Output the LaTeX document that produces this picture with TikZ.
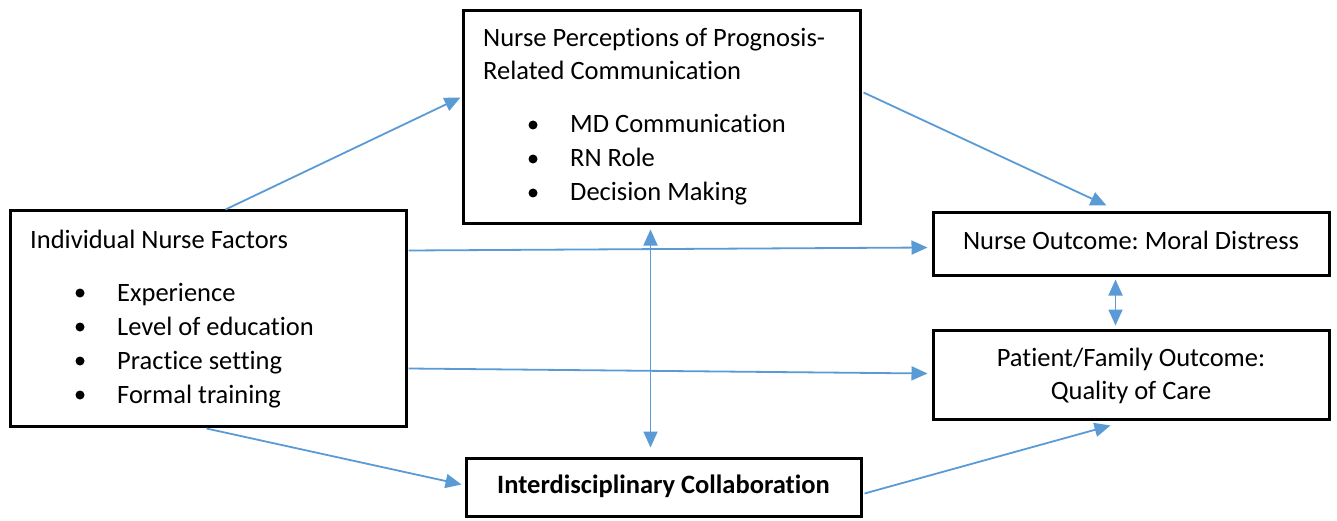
\documentclass[tikz,border=0pt]{standalone}
\usepackage{fontspec}
\setmainfont{Carlito}[Ligatures={NoCommon}]
\usetikzlibrary{arrows.meta,calc}
\definecolor{arrowblue}{HTML}{5B9BD5}
\frenchspacing
\tikzset{
  box/.style={draw=black, line width=3pt, rectangle, inner sep=0pt},
  txt/.style={anchor=base west, inner sep=0pt, font=\fontsize{26.5}{33}\selectfont},
  ctxt/.style={anchor=base, inner sep=0pt, font=\fontsize{26.5}{33}\selectfont},
  bul/.style={anchor=center, circle, fill=black, minimum size=9pt, inner sep=0pt},
  arr/.style={draw=arrowblue, line width=1.8pt, -{Triangle[length=16pt,width=14pt]}},
  darr/.style={draw=arrowblue, line width=1.8pt, {Triangle[length=16pt,width=14pt]}-{Triangle[length=16pt,width=14pt]}}
}
\begin{document}
\begin{tikzpicture}[x=1pt,y=-1pt]
\useasboundingbox (0,0) rectangle (1337,521);
\fill[white] (0,0) rectangle (1337,521);
% boxes
\node[box, minimum width=396pt, minimum height=215pt] (inf) at (208,318.5) {};
\node[box, minimum width=397pt, minimum height=213pt] (per) at (661.5,117.5) {};
\node[box, minimum width=396pt, minimum height=62pt] (mor) at (1131,244) {};
\node[box, minimum width=396pt, minimum height=89pt] (pat) at (1131,374.5) {};
\node[box, minimum width=395pt, minimum height=58pt] (col) at (663.5,487) {};
% texts: individual nurse factors
\node[txt] (t1) at (30,248) {Individual Nurse Factors};
\node[bul] (b11) at (80,293) {};
\node[txt] (t11) at (117,301) {Experience};
\node[bul] (b12) at (80,327) {};
\node[txt] (t12) at (117,335) {Level of education};
\node[bul] (b13) at (80,361) {};
\node[txt] (t13) at (117,369) {Practice setting};
\node[bul] (b14) at (80,395) {};
\node[txt] (t14) at (117,403) {Formal training};
% perceptions
\node[txt] (t2) at (483,47) {Nurse Perceptions of Prognosis-};
\node[txt] (t2b) at (483,80) {Related Communication};
\node[bul] (b21) at (533,125) {};
\node[txt] (t21) at (570,133) {MD Communication};
\node[bul] (b22) at (533,159) {};
\node[txt] (t22) at (570,167) {RN Role};
\node[bul] (b23) at (533,193) {};
\node[txt] (t23) at (570,201) {Decision Making};
% outcomes
\node[ctxt] (t3) at (1131,250) {Nurse Outcome: Moral Distress};
\node[ctxt] (t4) at (1131,366) {Patient/Family Outcome:};
\node[ctxt] (t4b) at (1131,399) {Quality of Care};
\node[ctxt, font=\fontsize{26.5}{33}\selectfont\bfseries] (t5) at (663.5,493) {Interdisciplinary Collaboration};
% connectors
\draw[arr] ($(inf.north west)+(217,0)$) -- ($(per.north west)+(-1,88)$);
\draw[arr] ($(per.north east)+(2,83)$) -- ($(mor.north west)+(175,-6)$);
\draw[arr] ($(inf.north east)+(1,41)$) -- ($(mor.north west)+(-4,36)$);
\draw[arr] ($(inf.north east)+(1,159)$) -- ($(pat.north west)+(-4,45)$);
\draw[arr] ($(inf.south west)+(198,1)$) -- ($(col.north west)+(-3,28)$);
\draw[arr] ($(col.north east)+(2,37)$) -- ($(pat.south west)+(179,5)$);
\draw[darr] ($(per.south west)+(189,4)$) -- ($(col.north west)+(186,-9)$);
\draw[darr] ($(mor.south west)+(184,3)$) -- ($(pat.north west)+(184,-3)$);
\end{tikzpicture}
\end{document}
